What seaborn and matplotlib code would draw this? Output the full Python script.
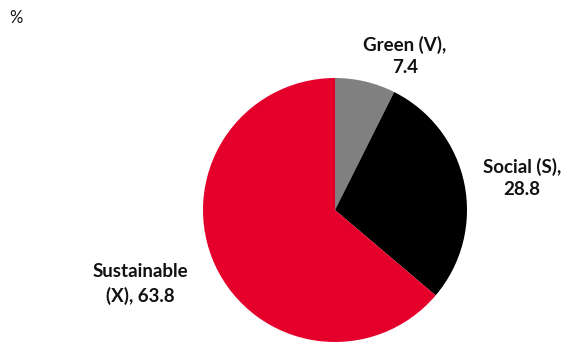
import matplotlib
matplotlib.use("Agg")
import matplotlib.pyplot as plt
import seaborn as sns
import pandas as pd

categories = ["Green (V)", "Social (S)", "Sustainable (X)"]
shares = [7.4, 28.8, 63.8]
label_texts = ["Green (V),\n7.4", "Social (S),\n28.8", "Sustainable\n(X), 63.8"]
colors = ["#808080", "#000000", "#E5002B"]

sns.set_theme(style="white")
plt.rcParams["font.family"] = ["Lato", "DejaVu Sans"]

df = pd.DataFrame({"category": categories, "share": shares, "label": label_texts})

W, H = 566, 342
fig = plt.figure(figsize=(W / 100, H / 100), dpi=100)
fig.patch.set_facecolor("white")

cx, cy, r = 335, 210, 132
ax = fig.add_axes([(cx - r) / W, (H - cy - r) / H, 2 * r / W, 2 * r / H])
ax.pie(df["share"], colors=colors, startangle=90, counterclock=False,
       radius=1, wedgeprops=dict(linewidth=0))
ax.set_xlim(-1, 1)
ax.set_ylim(-1, 1)
ax.set_aspect("equal")
ax.axis("off")

# label anchor points in pixel coordinates
label_pos = [(405, 56), (522, 178), (140, 284)]
for (px, py), txt in zip(label_pos, df["label"]):
    fig.text(px / W, 1 - py / H, txt, ha="center", va="center",
             fontsize=13.5, fontweight="bold", color="#111111", linespacing=1.4)

fig.text(9 / W, 1 - 18 / H, "%", ha="left", va="center", fontsize=12, color="#111111")

fig.savefig("out.png", dpi=100, facecolor="white")
